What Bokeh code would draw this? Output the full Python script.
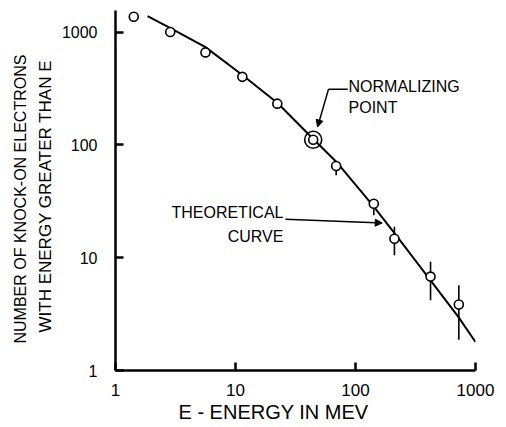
from bokeh.plotting import figure
from bokeh.models import (Label, Arrow, NormalHead, FixedTicker, Range1d,
                          NumeralTickFormatter, Title)
from bokeh.embed import file_html
from bokeh.resources import INLINE

# ---- data ----
energy = [1.42, 2.86, 5.62, 11.4, 22.3, 44.4, 69.0, 142, 211, 422, 726]
count = [1366, 1000, 660, 401, 232, 111, 64.9, 30.1, 14.7, 6.8, 3.85]

norm_energy = [44.4]
norm_count = [111]

err_energy = [69.0, 142, 211, 422, 726]
err_low = [53.8, 23.8, 10.5, 4.2, 1.87]
err_high = [71, 33, 18.8, 9.2, 5.7]

curve_energy = [1.85, 2.87, 5.62, 11.4, 22.4, 44.7, 70.8, 141, 224, 422, 722, 1000]
curve_count = [1386, 1085, 736, 416, 235, 112, 69, 28.7, 15.2, 6.3, 2.97, 1.79]

tick_values = [1, 10, 100, 1000]

FONT = "Liberation Sans"

p = figure(width=504, height=425, x_axis_type="log", y_axis_type="log",
           x_range=Range1d(1, 1000), y_range=Range1d(1, 1553),
           output_backend="svg", toolbar_location=None,
           min_border_left=115, min_border_right=29, min_border_top=10,
           min_border_bottom=55)
p.outline_line_color = None
p.xgrid.visible = False
p.ygrid.visible = False
p.background_fill_color = "white"
p.border_fill_color = "white"

for ax, fs, so in ((p.xaxis[0], "17px", 13), (p.yaxis[0], "16px", 18)):
    ax.ticker = FixedTicker(ticks=tick_values)
    ax.formatter = NumeralTickFormatter(format="0")
    ax.axis_line_width = 2.5
    ax.axis_line_color = "black"
    ax.major_tick_line_width = 2.5
    ax.major_tick_line_color = "black"
    ax.major_tick_in = 8
    ax.major_tick_out = 0
    ax.minor_tick_line_color = None
    ax.major_label_text_font = FONT
    ax.major_label_text_font_size = fs
    ax.major_label_text_color = "black"
    ax.major_label_standoff = so

# theoretical curve
p.line(curve_energy, curve_count, line_color="black", line_width=2)

# error bars
p.segment(x0=err_energy, y0=err_low, x1=err_energy, y1=err_high,
          line_color="black", line_width=1.6)

# data points
p.scatter(energy, count, marker="circle", size=9, fill_color="white",
          line_color="black", line_width=1.6)
# normalizing point (double circle)
p.scatter(norm_energy, norm_count, marker="circle", size=17, fill_color=None,
          line_color="black", line_width=1.6)

# annotations inside the frame
def lab(text, x, y, size, align="left"):
    p.add_layout(Label(x=x, y=y, text=text, text_font=FONT, text_font_size=size,
                       text_align=align, text_baseline="alphabetic",
                       text_color="black"))

lab("NORMALIZING", 87.5, 332, "16px")
lab("POINT", 87.5, 216, "16px")
p.add_layout(Arrow(end=None, x_start=86.0, y_start=312, x_end=59.6, y_end=312,
                   line_width=1.5, line_color="black"))
p.add_layout(Arrow(end=NormalHead(size=7, fill_color="black", line_color="black"),
                   x_start=59.6, y_start=312, x_end=48.3, y_end=144,
                   line_width=1.5, line_color="black"))

lab("THEORETICAL", 25.1, 24.9, "16px", align="right")
lab("CURVE", 25.1, 15.3, "16px", align="right")
p.add_layout(Arrow(end=NormalHead(size=7, fill_color="black", line_color="black"),
                   x_start=26.1, y_start=21.9, x_end=167, y_end=20.3,
                   line_width=1.5, line_color="black"))

# axis titles as side panels
def side_title(text, where, size, offset, standoff=0):
    t = Title(text=text, align="left", offset=offset, standoff=standoff,
              text_font=FONT, text_font_size=size, text_font_style="normal",
              text_color="black")
    p.add_layout(t, where)

side_title("E - ENERGY IN MEV", "below", "20px", 63)
side_title("WITH ENERGY GREATER THAN E", "left", "17px", 38, standoff=8)
side_title("NUMBER OF KNOCK-ON ELECTRONS", "left", "16px", 27, standoff=2)

open("out.html", "w").write(file_html(p, INLINE))
